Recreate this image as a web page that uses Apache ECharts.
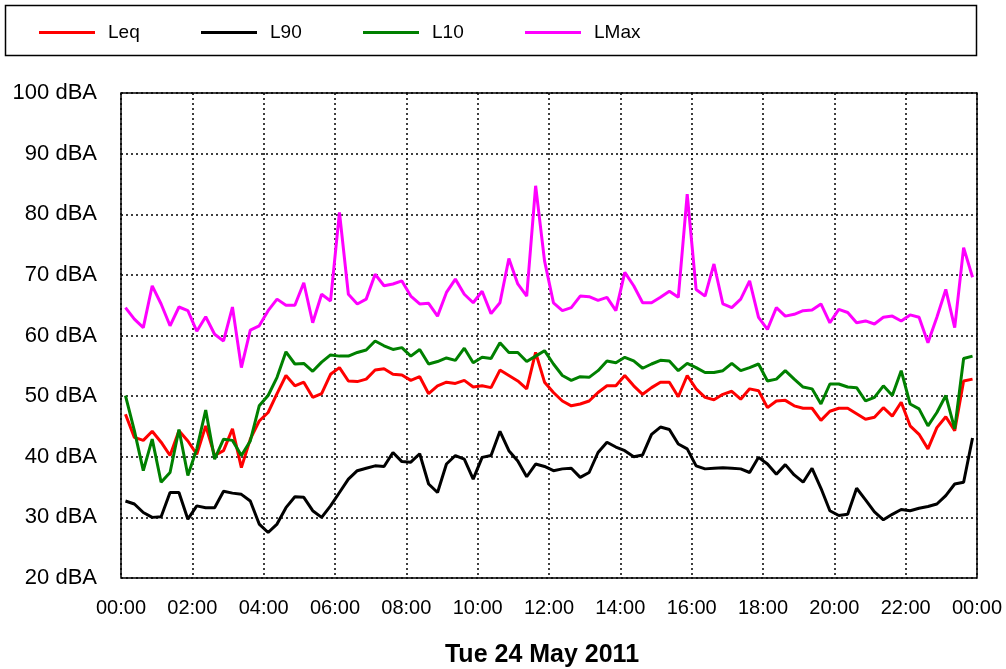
<!DOCTYPE html>
<html>
<head>
<meta charset="utf-8">
<script src="https://cdn.jsdelivr.net/npm/echarts@6/dist/echarts.min.js"></script>
<style>
html,body{margin:0;padding:0;background:#fff;}
#chart{width:1006px;height:669px;}
</style>
</head>
<body>
<div id="chart"></div>
<script>
// 15 minute readings, centred on each quarter hour
var names = ['Leq', 'L90', 'L10', 'LMax'];
var colors = ['#ff0000', '#000000', '#008000', '#ff00ff'];
var yTicks = [20, 30, 40, 50, 60, 70, 80, 90, 100];
var dateLabel = 'Tue 24 May 2011';

var leq = [
	47, 43.2, 42.7, 44.2, 42.4, 40.2, 44.3, 42.6, 40.4, 45.1, 40.2, 41, 44.6, 38.2, 42.9, 45.9, 47.3, 50.4, 53.4, 51.7, 52.3, 49.8, 50.4, 53.6,
	54.7, 52.5, 52.4, 52.8, 54.3, 54.5, 53.6, 53.5, 52.6, 53.2, 50.4, 51.7, 52.3, 52.1, 52.6, 51.5, 51.7, 51.4, 54.3, 53.4, 52.5, 51.2, 57.2, 52.3,
	50.6, 49.2, 48.4, 48.7, 49.2, 50.6, 51.7, 51.7, 53.4, 51.7, 50.3, 51.4, 52.3, 52.3, 49.9, 53.4, 51.2, 49.8, 49.4, 50.3, 50.8, 49.5, 51.2, 50.9,
	48.1, 49.2, 49.3, 48.4, 48, 48, 46, 47.5, 48, 48, 47.1, 46.2, 46.5, 48.1, 46.7, 49, 45.1, 43.7, 41.3, 44.8, 46.6, 44.3, 52.5, 52.8
];
var l90 = [
	32.7, 32.2, 30.8, 30, 30.1, 34.1, 34.1, 29.7, 31.9, 31.6, 31.6, 34.3, 34, 33.8, 32.7, 28.9, 27.5, 28.9, 31.6, 33.4, 33.3, 31.1, 30, 31.9,
	34.1, 36.3, 37.7, 38.1, 38.5, 38.4, 40.7, 39.2, 39.1, 40.5, 35.5, 34.1, 38.8, 40.2, 39.6, 36.3, 39.9, 40.2, 44.2, 41, 39.3, 36.7, 38.8, 38.4,
	37.7, 38, 38.1, 36.6, 37.4, 40.7, 42.4, 41.6, 41, 40, 40.3, 43.7, 44.9, 44.5, 42.1, 41.3, 38.5, 38, 38.1, 38.2, 38.1, 38, 37.4, 39.9,
	38.8, 37.1, 38.7, 37, 35.8, 38.1, 34.8, 31.1, 30.3, 30.5, 34.8, 32.9, 30.9, 29.6, 30.5, 31.3, 31.1, 31.5, 31.8, 32.2, 33.6, 35.5, 35.8, 43.1
];
var l10 = [
	50.1, 44.3, 37.7, 42.9, 35.8, 37.4, 44.5, 36.9, 41.3, 47.7, 39.6, 42.9, 42.7, 40.2, 42.6, 48.4, 50.1, 53.1, 57.3, 55.3, 55.4, 54.1, 55.6, 56.8,
	56.6, 56.6, 57.2, 57.6, 59.1, 58.3, 57.7, 58, 56.6, 57.7, 55.3, 55.7, 56.3, 55.9, 57.9, 55.5, 56.4, 56.2, 58.8, 57.2, 57.2, 55.7, 56.6, 57.5,
	55.3, 53.4, 52.6, 53.2, 53.1, 54.2, 55.8, 55.5, 56.4, 55.8, 54.6, 55.3, 55.9, 55.8, 54.2, 55.4, 54.7, 53.9, 53.9, 54.2, 55.4, 54.2, 54.7, 55.3,
	52.5, 52.8, 54.2, 52.8, 51.5, 51.2, 48.7, 52, 52, 51.5, 51.4, 49.2, 49.8, 51.7, 50.1, 54.2, 48.7, 47.9, 45.1, 47.3, 50.1, 44.6, 56.2, 56.6
];
var lmax = [
	64.6, 62.7, 61.3, 68.2, 65.2, 61.6, 64.7, 64.1, 60.7, 63.1, 60.2, 59.1, 64.7, 54.7, 60.9, 61.6, 64.1, 66, 65, 65, 68.7, 62.1, 66.8, 65.7,
	80.3, 66.8, 65.2, 66, 70.1, 68.2, 68.5, 69, 66.5, 65.2, 65.3, 63.2, 67.1, 69.3, 66.8, 65.4, 67.3, 63.6, 65.4, 72.7, 68.5, 66.5, 84.7, 72.3,
	65.4, 64.1, 64.6, 66.5, 66.4, 65.8, 66.3, 64.1, 70.4, 68.2, 65.4, 65.4, 66.3, 67.3, 66.3, 83.3, 67.6, 66.5, 71.8, 65.2, 64.6, 66, 69, 63,
	61, 64.6, 63.2, 63.5, 64.1, 64.2, 65.2, 62.1, 64.3, 63.8, 62.1, 62.4, 61.9, 63, 63.2, 62.4, 63.4, 63, 58.8, 63, 67.6, 61.3, 74.5, 69.6
];

function toPoints(values){
	var pts = [];
	for (var i = 0; i < values.length; i++) {
		pts.push([0.125 + i * 0.25, values[i]]);
	}
	return pts;
}

function pad(n){
	return n < 10 ? '0' + n : '' + n;
}

var allValues = [leq, l90, l10, lmax];
var font = '"Liberation Sans", Arial, sans-serif';

var myChart = echarts.init(document.getElementById('chart'), null, {renderer: 'canvas'});

var legends = [];
var series = [];
for (var i = 0; i < names.length; i++) {
	legends.push({
		data: [names[i]],
		left: 34 + 162 * i,
		top: 18,
		icon: 'rect',
		itemWidth: 56,
		itemHeight: 3,
		itemGap: 0,
		selectedMode: false,
		textStyle: {fontFamily: font, fontSize: 19, color: '#000', padding: [0, 0, 0, 8]}
	});
	series.push({
		name: names[i],
		type: 'line',
		data: toPoints(allValues[i]),
		showSymbol: false,
		symbol: 'none',
		animation: false,
		lineStyle: {color: colors[i], width: 3},
		itemStyle: {color: colors[i]}
	});
}

var option = {
	backgroundColor: '#fff',
	animation: false,
	legend: legends,
	graphic: [
		{
			type: 'rect',
			shape: {x: 5.5, y: 5.5, width: 971, height: 50},
			style: {fill: 'none', stroke: '#000', lineWidth: 1.5},
			silent: true
		},
		{
			type: 'text',
			x: 542,
			y: 655,
			style: {text: dateLabel, fontFamily: font, fontSize: 25, fontWeight: 'bold', fill: '#000', align: 'center', verticalAlign: 'middle'}
		}
	],
	grid: {left: 121, right: 29, top: 93, bottom: 91, show: true, borderColor: '#000', borderWidth: 1.5, backgroundColor: '#fff'},
	xAxis: {
		type: 'value',
		min: 0,
		max: 24,
		interval: 2,
		axisLine: {show: false},
		axisTick: {show: false},
		splitLine: {show: true, lineStyle: {color: '#000', type: [2, 3], width: 1.5}},
		axisLabel: {
			margin: 20,
			fontFamily: font,
			fontSize: 20,
			color: '#000',
			formatter: function(v){ return pad(v % 24) + ':00'; }
		}
	},
	yAxis: {
		type: 'value',
		min: yTicks[0],
		max: yTicks[yTicks.length - 1],
		interval: 10,
		axisLine: {show: false},
		axisTick: {show: false},
		splitLine: {show: true, lineStyle: {color: '#000', type: [2, 3], width: 1.5}},
		axisLabel: {
			margin: 24,
			fontFamily: font,
			fontSize: 22,
			color: '#000',
			formatter: function(v){ return v + ' dBA'; }
		}
	},
	series: series
};

myChart.setOption(option);
</script>
</body>
</html>
